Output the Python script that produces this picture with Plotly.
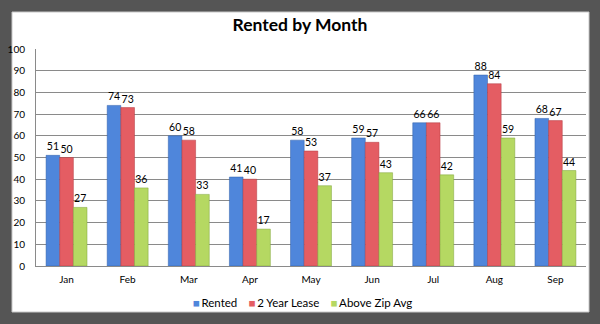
import plotly.graph_objects as go

months = ["Jan", "Feb", "Mar", "Apr", "May", "Jun", "Jul", "Aug", "Sep"]
rented = [51, 74, 60, 41, 58, 59, 66, 88, 68]
two_year_lease = [50, 73, 58, 40, 53, 57, 66, 84, 67]
above_zip_avg = [27, 36, 33, 17, 37, 43, 42, 59, 44]
series_names = ["Rented", "2 Year Lease", "Above Zip Avg"]
colors = ["#4F86DB", "#E45D63", "#B5D862"]
edge_colors = ["#2F5FA8", "#B23A40", "#7FA53A"]

W, H = 600, 324
L, R, T, B = 36, 14, 49, 58
pw, ph = W - L - R, H - T - B

fig = go.Figure()
for name, vals, c, ec in zip(series_names, [rented, two_year_lease, above_zip_avg], colors, edge_colors):
    fig.add_trace(go.Bar(
        x=months, y=vals, name=name,
        marker=dict(color=c, line=dict(color=ec, width=0.5)),
        text=vals, textposition="outside",
        textfont=dict(size=10.5, color="#000000", family="Lato"),
        cliponaxis=False, showlegend=False,
    ))

# white panel on dark frame
px0, px1, py0, py1 = 12, 589, 12, 312
fig.add_shape(type="rect", xref="paper", yref="paper", layer="below",
              x0=(px0 - L) / pw, x1=(px1 - L) / pw,
              y0=(H - B - py1) / ph, y1=(H - B - py0) / ph,
              fillcolor="white", line=dict(color="#C8C8C8", width=1))

# legend as a single line of text with coloured swatches
sep = "\u2002\u2002"
legend_html = sep.join(
    f"<span style='color:{c}'>■</span>\u2009{n}" for n, c in zip(series_names, colors)
)
fig.add_annotation(text=legend_html, xref="paper", yref="paper",
                   x=(302.5 - L) / pw, y=(H - B - 302) / ph,
                   xanchor="center", yanchor="middle", showarrow=False,
                   font=dict(size=11.5, family="Lato", color="#000000"))

fig.update_layout(
    width=W, height=H,
    margin=dict(l=L, r=R, t=T, b=B, autoexpand=False),
    paper_bgcolor="#555555",
    plot_bgcolor="white",
    barmode="group",
    bargap=0.33,
    bargroupgap=0.0,
    font=dict(family="Lato", color="#000000", size=11),
    title=dict(text="<b>Rented by Month</b>", x=0.5, xanchor="center",
               y=(H - 25) / H, yanchor="middle",
               font=dict(size=17.5, family="Lato", color="#000000")),
    showlegend=False,
)
fig.update_yaxes(range=[0, 100], dtick=10, showgrid=True, gridcolor="#8A8A8A",
                 gridwidth=1, showline=True, linecolor="#8A8A8A", linewidth=1,
                 ticks="", ticklabelstandoff=8,
                 tickfont=dict(size=10, family="Lato"), zeroline=False,
                 automargin=False)
fig.update_xaxes(showline=True, linecolor="#8A8A8A", linewidth=1,
                 tickfont=dict(size=10, family="Lato"), ticks="",
                 ticklabelstandoff=4, automargin=False)

fig.write_html("out.html")
